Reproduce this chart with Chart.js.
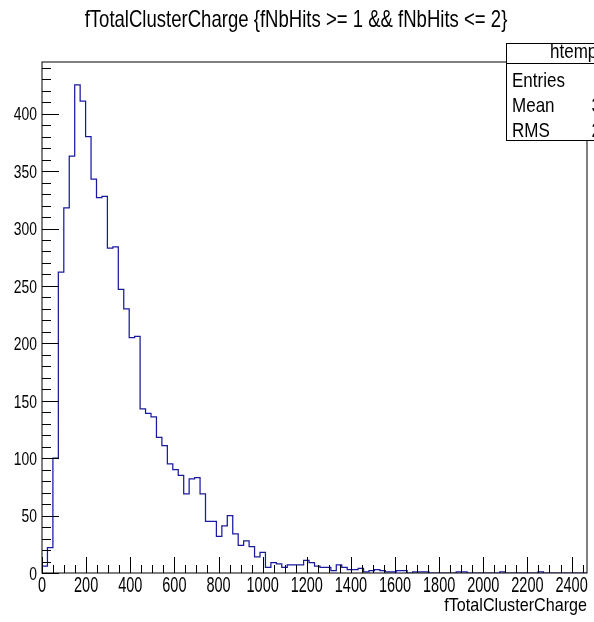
<!DOCTYPE html>
<html>
<head>
<meta charset="utf-8">
<script src="https://cdn.jsdelivr.net/npm/chart.js@4.4.0/dist/chart.umd.min.js"></script>
<style>
  html, body { margin: 0; padding: 0; background: #fff; }
  #wrap { width: 594px; height: 622px; }
</style>
</head>
<body>
<div id="wrap"><canvas id="histo" width="594" height="622"></canvas></div>
<script>
// histogram: 100 bins from 0 to ~2470
const binWidth = 24.7;
const counts = [
  6, 22, 100, 262, 318, 363, 425, 411, 380, 343,
  327, 328, 283, 284, 247, 230, 205, 206, 143, 139,
  136, 118, 111, 95, 90, 85, 69, 82, 83, 69,
  45, 45, 32, 41, 50, 34, 24, 28, 23, 14,
  18, 5, 9, 8, 5, 7, 7, 7, 11, 9,
  6, 5, 5, 2, 7, 5, 3, 3, 4, 1,
  2, 3, 2, 1, 1, 2, 2, 0, 1, 1,
  1, 0, 0, 0, 0, 0, 1, 1, 0, 0,
  0, 0, 0, 0, 1, 0, 0, 0, 0, 0,
  0, 1, 0, 0, 0, 0, 0, 0, 0, 0
];
const xMax = 2470;
const yMax = 445;
const xMajorStep = 200, xMinorStep = 50;
const yMajorStep = 50, yMinorStep = 10;

const titleText = 'fTotalClusterCharge {fNbHits >= 1 && fNbHits <= 2}';
const xTitle = 'fTotalClusterCharge';
const statsName = 'htemp';
const statsLabels = ['Entries', 'Mean', 'RMS'];
const statsValues = ['6443', '323.4', '226.1'];

// no narrow font installed, so text is squeezed horizontally
const FONT = '"Liberation Sans", Arial, sans-serif';
const lineBlue = '#1a1aa0';

// step outline points (bin low edges)
const points = [{ x: 0, y: 0 }];
counts.forEach((c, i) => points.push({ x: i * binWidth, y: c }));
points.push({ x: counts.length * binWidth, y: 0 });

function narrowText(ctx, text, x, y, size, sx, align) {
  ctx.save();
  ctx.translate(x, y);
  ctx.scale(sx, 1);
  ctx.font = size + 'px ' + FONT;
  ctx.textAlign = align;
  ctx.textBaseline = 'alphabetic';
  ctx.fillText(text, 0, 0);
  ctx.restore();
}

const rootLook = {
  id: 'rootLook',
  afterDraw(chart) {
    const ctx = chart.ctx;
    const a = chart.chartArea;
    const xs = chart.scales.x, ys = chart.scales.y;
    ctx.save();
    ctx.strokeStyle = '#000';
    ctx.fillStyle = '#000';
    ctx.lineWidth = 1;

    // frame
    ctx.strokeRect(a.left, a.top, a.right - a.left, a.bottom - a.top);

    // y ticks (inside)
    ctx.beginPath();
    for (let v = 0; v <= yMax; v += yMinorStep) {
      const y = Math.round(ys.getPixelForValue(v)) + 0.5;
      const len = v % yMajorStep === 0 ? 17 : 9;
      ctx.moveTo(a.left, y);
      ctx.lineTo(a.left + len, y);
    }
    // x ticks (inside)
    for (let v = 0; v <= xMax; v += xMinorStep) {
      const x = Math.round(xs.getPixelForValue(v)) + 0.5;
      const len = v % xMajorStep === 0 ? 16 : 8;
      ctx.moveTo(x, a.bottom);
      ctx.lineTo(x, a.bottom - len);
    }
    ctx.stroke();

    // tick labels from the scales
    ys.ticks.forEach(t => {
      narrowText(ctx, String(t.value), a.left - 5, ys.getPixelForValue(t.value) + 6.8, 19, 0.73, 'right');
    });
    xs.ticks.forEach(t => {
      narrowText(ctx, String(t.value), xs.getPixelForValue(t.value), 592, 22, 0.66, 'center');
    });

    // title
    narrowText(ctx, titleText, 296, 27, 23.2, 0.8, 'center');
    // x axis title
    narrowText(ctx, xTitle, 587, 611, 19, 0.85, 'right');

    // stats box
    const bx = 506, by = 43, bw = 200, bh = 97;
    ctx.fillStyle = '#fff';
    ctx.fillRect(bx, by, bw, bh);
    ctx.strokeRect(bx + 0.5, by + 0.5, bw, bh);
    ctx.beginPath();
    ctx.moveTo(bx, by + 20.5);
    ctx.lineTo(bx + bw, by + 20.5);
    ctx.stroke();
    ctx.fillStyle = '#000';
    narrowText(ctx, statsName, 550, 58, 21, 0.81, 'left');
    statsLabels.forEach((lab, i) => {
      const y = 87 + i * 25;
      narrowText(ctx, lab, 512, y, 21, 0.81, 'left');
      narrowText(ctx, statsValues[i], 634, y, 21, 0.81, 'right');
    });
    ctx.restore();
  }
};

new Chart(document.getElementById('histo'), {
  type: 'line',
  data: {
    datasets: [{
      data: points,
      stepped: true,
      borderColor: lineBlue,
      borderWidth: 1.25,
      pointRadius: 0,
      fill: false,
      tension: 0
    }]
  },
  options: {
    responsive: false,
    animation: false,
    devicePixelRatio: 1,
    layout: { padding: { top: 62, right: 7, left: 0, bottom: 0 } },
    plugins: {
      legend: { display: false },
      tooltip: { enabled: false },
      title: { display: false }
    },
    scales: {
      x: {
        type: 'linear',
        min: 0,
        max: xMax,
        grid: { display: false, drawTicks: false },
        border: { display: false },
        ticks: { display: false, stepSize: xMajorStep, includeBounds: false, autoSkip: false },
        afterFit(scale) { scale.height = 49; }
      },
      y: {
        min: 0,
        max: yMax,
        grid: { display: false, drawTicks: false },
        border: { display: false },
        ticks: { display: false, stepSize: yMajorStep, includeBounds: false },
        afterFit(scale) { scale.width = 42; }
      }
    }
  },
  plugins: [rootLook]
});
</script>
</body>
</html>
